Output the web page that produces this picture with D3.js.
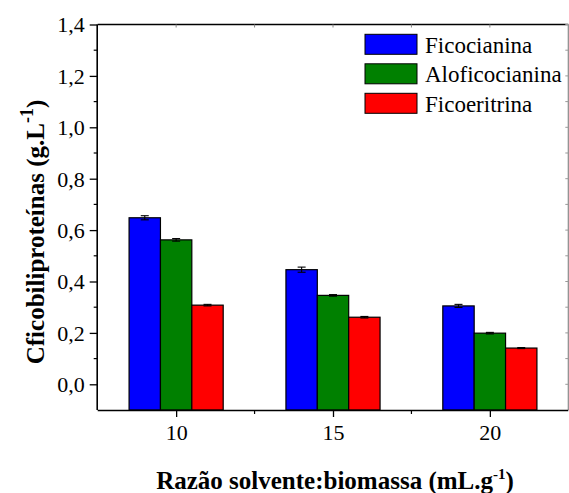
<!DOCTYPE html>
<html>
<head>
<meta charset="utf-8">
<script src="https://cdn.jsdelivr.net/npm/d3@7"></script>
<style>
  body { margin: 0; background: #fff; }
</style>
</head>
<body>
<svg id="chart" width="569" height="493"></svg>
<script>
// Solvent:biomass ratios (mL/g)
const ratios = [10, 15, 20];
const seriesNames = ["Ficocianina", "Aloficocianina", "Ficoeritrina"];
const seriesColors = ["#0000ff", "#008000", "#ff0000"];
// Phycobiliprotein concentration (g/L) for each ratio
const ficocianina    = [0.648, 0.446, 0.305];
const aloficocianina = [0.562, 0.346, 0.199];
const ficoeritrina   = [0.308, 0.261, 0.141];
// Standard deviations
const ficocianinaErr    = [0.008, 0.010, 0.006];
const aloficocianinaErr = [0.005, 0.003, 0.003];
const ficoeritrinaErr   = [0.003, 0.003, 0.002];
const yTicks = [0, 0.2, 0.4, 0.6, 0.8, 1.0, 1.2, 1.4];

(function () {
const values = [ficocianina, aloficocianina, ficoeritrina];
const errors = [ficocianinaErr, aloficocianinaErr, ficoeritrinaErr];
const FONT = "Liberation Serif";

const svg = d3.select("#chart");
const pLeft = 97.7, pRight = 568.3, pTop = 24.5, pBottom = 410;

const x = d3.scaleLinear().domain([7.5, 22.5]).range([pLeft, pRight]);
const y = d3.scaleLinear().domain([-0.1, 1.4]).range([pBottom, pTop]);
const barW = 1; // in ratio units

// Bars with error bars
values.forEach((vals, s) => {
  const g = svg.append("g");
  vals.forEach((v, i) => {
    const x0 = x(ratios[i] - 1.5 * barW + s * barW);
    const x1 = x(ratios[i] - 1.5 * barW + (s + 1) * barW);
    g.append("rect")
      .attr("x", x0).attr("y", y(v))
      .attr("width", x1 - x0).attr("height", y(-0.1) - y(v))
      .attr("fill", seriesColors[s])
      .attr("stroke", "#000").attr("stroke-width", 1.2);
    const cx = (x0 + x1) / 2, e = errors[s][i];
    const eb = g.append("g").attr("stroke", "#000").attr("stroke-width", 1.1);
    eb.append("line").attr("x1", cx).attr("x2", cx).attr("y1", y(v + e)).attr("y2", y(v - e));
    eb.append("line").attr("x1", cx - 4).attr("x2", cx + 4).attr("y1", y(v + e)).attr("y2", y(v + e));
    eb.append("line").attr("x1", cx - 4).attr("x2", cx + 4).attr("y1", y(v - e)).attr("y2", y(v - e));
  });
});

// Frame
const frame = svg.append("g").attr("fill", "none");
frame.append("line").attr("x1", pLeft).attr("x2", pRight).attr("y1", pTop).attr("y2", pTop).attr("stroke", "#000").attr("stroke-width", 1.6);
frame.append("line").attr("x1", pRight).attr("x2", pRight).attr("y1", pTop).attr("y2", pBottom).attr("stroke", "#888").attr("stroke-width", 1.2);

// Left axis
const yAxis = d3.axisLeft(y).tickValues(yTicks).tickSize(8).tickPadding(5)
  .tickFormat(d => d3.format(".1f")(d).replace(".", ","));
const gy = svg.append("g").attr("transform", `translate(${pLeft},0)`).call(yAxis);
gy.attr("font-family", FONT).attr("font-size", 22);
gy.select(".domain").attr("stroke-width", 1.6).attr("d", `M-0.5,${pBottom}V${pTop}`);
gy.selectAll(".tick line").attr("stroke-width", 1.3);
gy.selectAll("text").attr("font-family", FONT).attr("font-size", 22).attr("fill", "#000").attr("dy", "0.34em");
const yMinor = d3.range(1, 14, 2).map(d => d / 10);
svg.append("g").selectAll("line").data(yMinor).join("line")
  .attr("x1", pLeft - 4).attr("x2", pLeft).attr("y1", d => y(d)).attr("y2", d => y(d))
  .attr("stroke", "#000").attr("stroke-width", 1.2);
// mirror ticks on the right edge
svg.append("g").selectAll("line").data(yTicks.concat(yMinor)).join("line")
  .attr("x1", pRight - 3).attr("x2", pRight).attr("y1", d => y(d)).attr("y2", d => y(d))
  .attr("stroke", "#999").attr("stroke-width", 1);

// Bottom axis
const xAxis = d3.axisBottom(x).tickValues(ratios).tickSize(7).tickPadding(7).tickFormat(d3.format("d"));
const gx = svg.append("g").attr("transform", `translate(0,${pBottom})`).call(xAxis);
gx.attr("font-family", FONT).attr("font-size", 22);
gx.select(".domain").attr("stroke-width", 1.6).attr("d", `M${pLeft},0.5H${pRight}`);
gx.selectAll(".tick line").attr("stroke-width", 1.3);
gx.selectAll("text").attr("font-family", FONT).attr("font-size", 22).attr("fill", "#000");
const xMinor = [12.5, 17.5];
svg.append("g").selectAll("line").data(xMinor).join("line")
  .attr("x1", d => x(d)).attr("x2", d => x(d)).attr("y1", pBottom).attr("y2", pBottom + 4)
  .attr("stroke", "#000").attr("stroke-width", 1.2);
// mirror ticks on the top edge
svg.append("g").selectAll("line").data(ratios.concat(xMinor)).join("line")
  .attr("x1", d => x(d)).attr("x2", d => x(d)).attr("y1", pTop).attr("y2", pTop + 3)
  .attr("stroke", "#888").attr("stroke-width", 1);

// Axis titles
const xt = svg.append("text").attr("x", 335).attr("y", 489).attr("text-anchor", "middle")
  .attr("font-family", FONT).attr("font-size", 25).attr("font-weight", "bold").attr("fill", "#000");
xt.append("tspan").text("Razão solvente:biomassa (mL.g");
xt.append("tspan").attr("dy", -10).attr("font-size", 15).text("-1");
xt.append("tspan").attr("dy", 10).text(")");

const yt = svg.append("text").attr("transform", "translate(44,232) rotate(-90)").attr("text-anchor", "middle")
  .attr("font-family", FONT).attr("font-size", 25).attr("font-weight", "bold").attr("fill", "#000");
yt.append("tspan").text("Cficobiliproteínas (g.L");
yt.append("tspan").attr("dy", -11).attr("font-size", 18).text("-1");
yt.append("tspan").attr("dy", 11).text(")");

// Legend
const lg = svg.append("g");
seriesNames.forEach((name, s) => {
  const yy = 34.3 + s * 29.5;
  lg.append("rect").attr("x", 365).attr("y", yy).attr("width", 52).attr("height", 20)
    .attr("fill", seriesColors[s]).attr("stroke", "#000").attr("stroke-width", 1);
  lg.append("text").attr("x", 425).attr("y", yy + 18.4)
    .attr("font-family", FONT).attr("font-size", 23).attr("fill", "#000").text(name);
});
})();
</script>
</body>
</html>
